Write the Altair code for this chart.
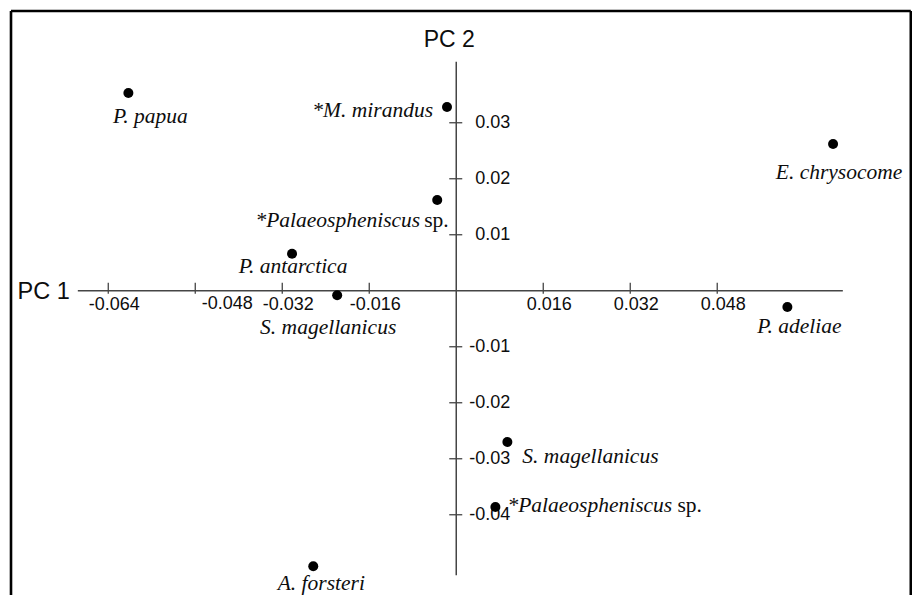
import altair as alt
import pandas as pd

# ---- data ----
species = ["P. papua", "*M. mirandus", "*Palaeospheniscus", "P. antarctica",
           "S. magellanicus", "E. chrysocome", "P. adeliae", "S. magellanicus",
           "*Palaeospheniscus", "A. forsteri"]
species_suffix = ["", "", "sp.", "", "", "", "", "", "sp.", ""]
pc1 = [-0.0603, -0.0017, -0.0035, -0.0302, -0.0219, 0.0693, 0.0609, 0.0094, 0.0072, -0.0263]
pc2 = [0.0353, 0.0328, 0.0162, 0.0066, -0.0008, 0.0262, -0.0029, -0.0270, -0.0386, -0.0492]

x_ticks = [-0.064, -0.048, -0.032, -0.016, 0.016, 0.032, 0.048]
x_tick_labels = ["-0.064", "-0.048", "-0.032", "-0.016", "0.016", "0.032", "0.048"]
y_ticks = [0.03, 0.02, 0.01, -0.01, -0.02, -0.03, -0.04]
y_tick_labels = ["0.03", "0.02", "0.01", "-0.01", "-0.02", "-0.03", "-0.04"]

x_domain = [-0.08189, 0.08382]
y_domain = [-0.05433, 0.049955]
x_frame = [-0.08189, 0.08360]
x_axis_extent = [-0.0696, 0.0711]
y_axis_extent = [-0.0508, 0.0409]

# ---- tables ----
pts = pd.DataFrame({"i": list(range(len(species))), "name": species,
                    "suffix": species_suffix, "pc1": pc1, "pc2": pc2})
xt = pd.DataFrame({"v": x_ticks, "lab": x_tick_labels, "zero": 0.0})
yt = pd.DataFrame({"v": y_ticks, "lab": y_tick_labels, "zero": 0.0})

xs = alt.Scale(domain=x_domain, nice=False, zero=False)
ys = alt.Scale(domain=y_domain, nice=False, zero=False)

def X(f):
    return alt.X(f, type="quantitative", scale=xs, axis=None)

def Y(f):
    return alt.Y(f, type="quantitative", scale=ys, axis=None)

AXC = "#454545"
TXT = "#0d0d0d"
SANS = "Liberation Sans"
SERIF = "Liberation Serif"

layers = []

# frame (left, right, top)
frame_v = pd.DataFrame({"x": x_frame, "y": [y_domain[1]] * 2, "y2": [y_domain[0]] * 2})
frame_h = pd.DataFrame({"x": [x_frame[0]], "x2": [x_frame[1]], "y": [y_domain[1]]})
layers.append(alt.Chart(frame_v).mark_rule(color="black", strokeWidth=2.6).encode(
    x=X("x"), y=Y("y"), y2="y2"))
layers.append(alt.Chart(frame_h).mark_rule(color="black", strokeWidth=2.6).encode(
    x=X("x"), x2="x2", y=Y("y")))

# axes lines
axh = pd.DataFrame({"x": [x_axis_extent[0]], "x2": [x_axis_extent[1]], "y": [0.0]})
axv = pd.DataFrame({"x": [0.0], "y": [y_axis_extent[1]], "y2": [y_axis_extent[0]]})
layers.append(alt.Chart(axh).mark_rule(color=AXC, strokeWidth=1.5).encode(
    x=X("x"), x2="x2", y=Y("y")))
layers.append(alt.Chart(axv).mark_rule(color=AXC, strokeWidth=1.5).encode(
    x=X("x"), y=Y("y"), y2="y2"))

# ticks
layers.append(alt.Chart(xt).mark_rule(color=AXC, strokeWidth=1.3, yOffset=3, y2Offset=-8).encode(
    x=X("v"), y=Y("zero"), y2="zero"))
layers.append(alt.Chart(yt).mark_rule(color=AXC, strokeWidth=1.3, xOffset=-7, x2Offset=6).encode(
    y=Y("v"), x=X("zero"), x2="zero"))

# tick labels (the -0.048 label sits to the right of its tick in the original)
layers.append(alt.Chart(xt).transform_filter(alt.datum.lab != "-0.048").mark_text(
    font=SANS, fontSize=18, color=TXT, align="center", baseline="alphabetic", dx=6, dy=19).encode(
    x=X("v"), y=Y("zero"), text="lab"))
layers.append(alt.Chart(xt).transform_filter(alt.datum.lab == "-0.048").mark_text(
    font=SANS, fontSize=18, color=TXT, align="center", baseline="alphabetic", dx=32, dy=18).encode(
    x=X("v"), y=Y("zero"), text="lab"))
layers.append(alt.Chart(yt).mark_text(font=SANS, fontSize=18, color=TXT, align="right",
                                      baseline="middle", dx=54, dy=0).encode(
    y=Y("v"), x=X("zero"), text="lab"))

# axis titles
t1 = pd.DataFrame({"x": [x_axis_extent[0]], "y": [0.0], "t": ["PC 1"]})
t2 = pd.DataFrame({"x": [0.0], "y": [y_axis_extent[1]], "t": ["PC 2"]})
layers.append(alt.Chart(t1).mark_text(font=SANS, fontSize=23.5, color=TXT, align="right",
                                      baseline="alphabetic", dx=-8, dy=8).encode(
    x=X("x"), y=Y("y"), text="t"))
layers.append(alt.Chart(t2).mark_text(font=SANS, fontSize=23, color=TXT, align="center",
                                      baseline="alphabetic", dx=-7, dy=-15).encode(
    x=X("x"), y=Y("y"), text="t"))

# points
layers.append(alt.Chart(pts).mark_circle(size=100, color="black", opacity=1).encode(
    x=X("pc1"), y=Y("pc2")))

# labels: (align, dx, dy) for italic part, optional (align, dx) for roman suffix
placement = [
    ("center", 22, 30, None),
    ("right", -14, 10, None),
    ("right", -17, 27, ("left", -13)),
    ("center", 1, 19, None),
    ("center", -9, 39, None),
    ("center", 6, 35, None),
    ("center", 12, 26, None),
    ("left", 15, 21, None),
    ("left", 12, 5, ("left", 182)),
    ("center", 8, 24, None),
]
for i, (al, dx, dy, suf) in enumerate(placement):
    base = alt.Chart(pts).transform_filter(alt.datum.i == i)
    layers.append(base.mark_text(font=SERIF, fontStyle="italic", fontSize=21.5, color=TXT,
                                 align=al, baseline="alphabetic", dx=dx, dy=dy).encode(
        x=X("pc1"), y=Y("pc2"), text="name"))
    if suf is not None:
        layers.append(base.mark_text(font=SERIF, fontSize=21.5, color=TXT,
                                     align=suf[0], baseline="alphabetic", dx=suf[1], dy=dy).encode(
            x=X("pc1"), y=Y("pc2"), text="suffix"))

chart = alt.layer(*layers).properties(
    width=901, height=584,
    padding={"left": 3, "top": 3, "right": 0, "bottom": 0},
    autosize=alt.AutoSizeParams(type="none"),
    background="white",
).configure_view(stroke=None)

chart.save("out.html", embed_options={"renderer": "svg", "actions": False})
